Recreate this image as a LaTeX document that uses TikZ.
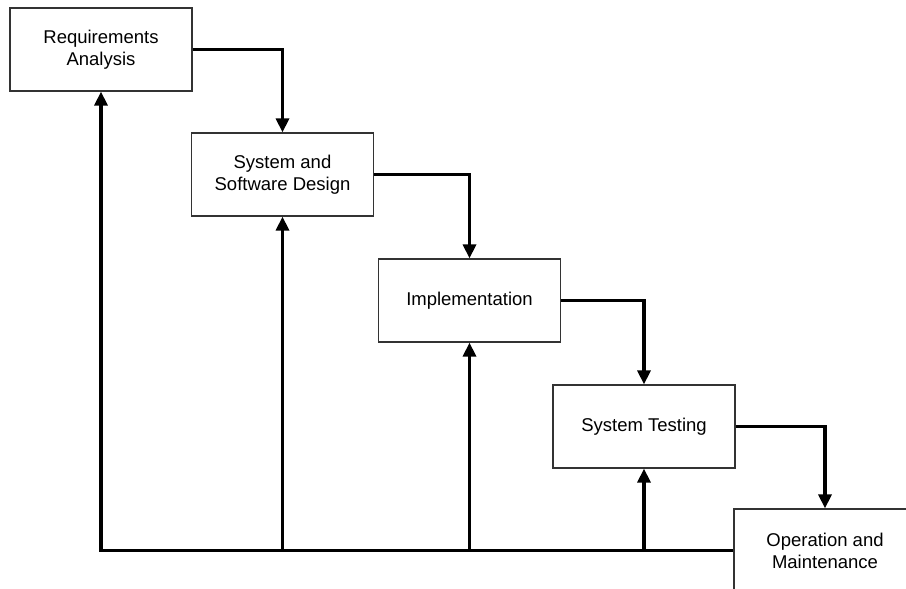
\documentclass[tikz,border=0pt]{standalone}
\usepackage{fontspec}
\setmainfont{Liberation Sans}
\usetikzlibrary{arrows.meta}
\begin{document}
\begin{tikzpicture}[x=1pt,y=-1pt,
  stagebox/.style={draw=black!80, line width=1.2pt, fill=white, minimum width=182pt, minimum height=83pt,
    align=center, inner sep=0pt, font=\fontsize{18.5}{22}\selectfont},
  flow/.style={line width=3.2pt, -{Triangle[length=14pt,width=13pt]}},
  fback/.style={line width=3.2pt}]
\useasboundingbox (0,0) rectangle (906,589);
\clip (0,0) rectangle (906,589);
\node[stagebox] (b1) at (101,49.5) {Requirements\\Analysis};
\node[stagebox] (b2) at (282.5,174.5) {System and\\Software Design};
\node[stagebox] (b3) at (469.5,300.5) {Implementation};
\node[stagebox] (b4) at (644,426.5) {System Testing};
\node[stagebox] (b5) at (825,550.5) {Operation and\\Maintenance};
\draw[flow] (b1.east) -| (b2.north);
\draw[flow] (b2.east) -| (b3.north);
\draw[flow] (b3.east) -| (b4.north);
\draw[flow] (b4.east) -| (b5.north);
\coordinate (c1) at (b1.south |- b5.west);
\coordinate (c2) at (b2.south |- b5.west);
\coordinate (c3) at (b3.south |- b5.west);
\coordinate (c4) at (b4.south |- b5.west);
\draw[fback] (b5.west) -- ([xshift=-1.6pt]c1);
\draw[flow] (c1) -- (b1.south);
\draw[flow] (c2) -- (b2.south);
\draw[flow] (c3) -- (b3.south);
\draw[flow] (c4) -- (b4.south);
\end{tikzpicture}
\end{document}
